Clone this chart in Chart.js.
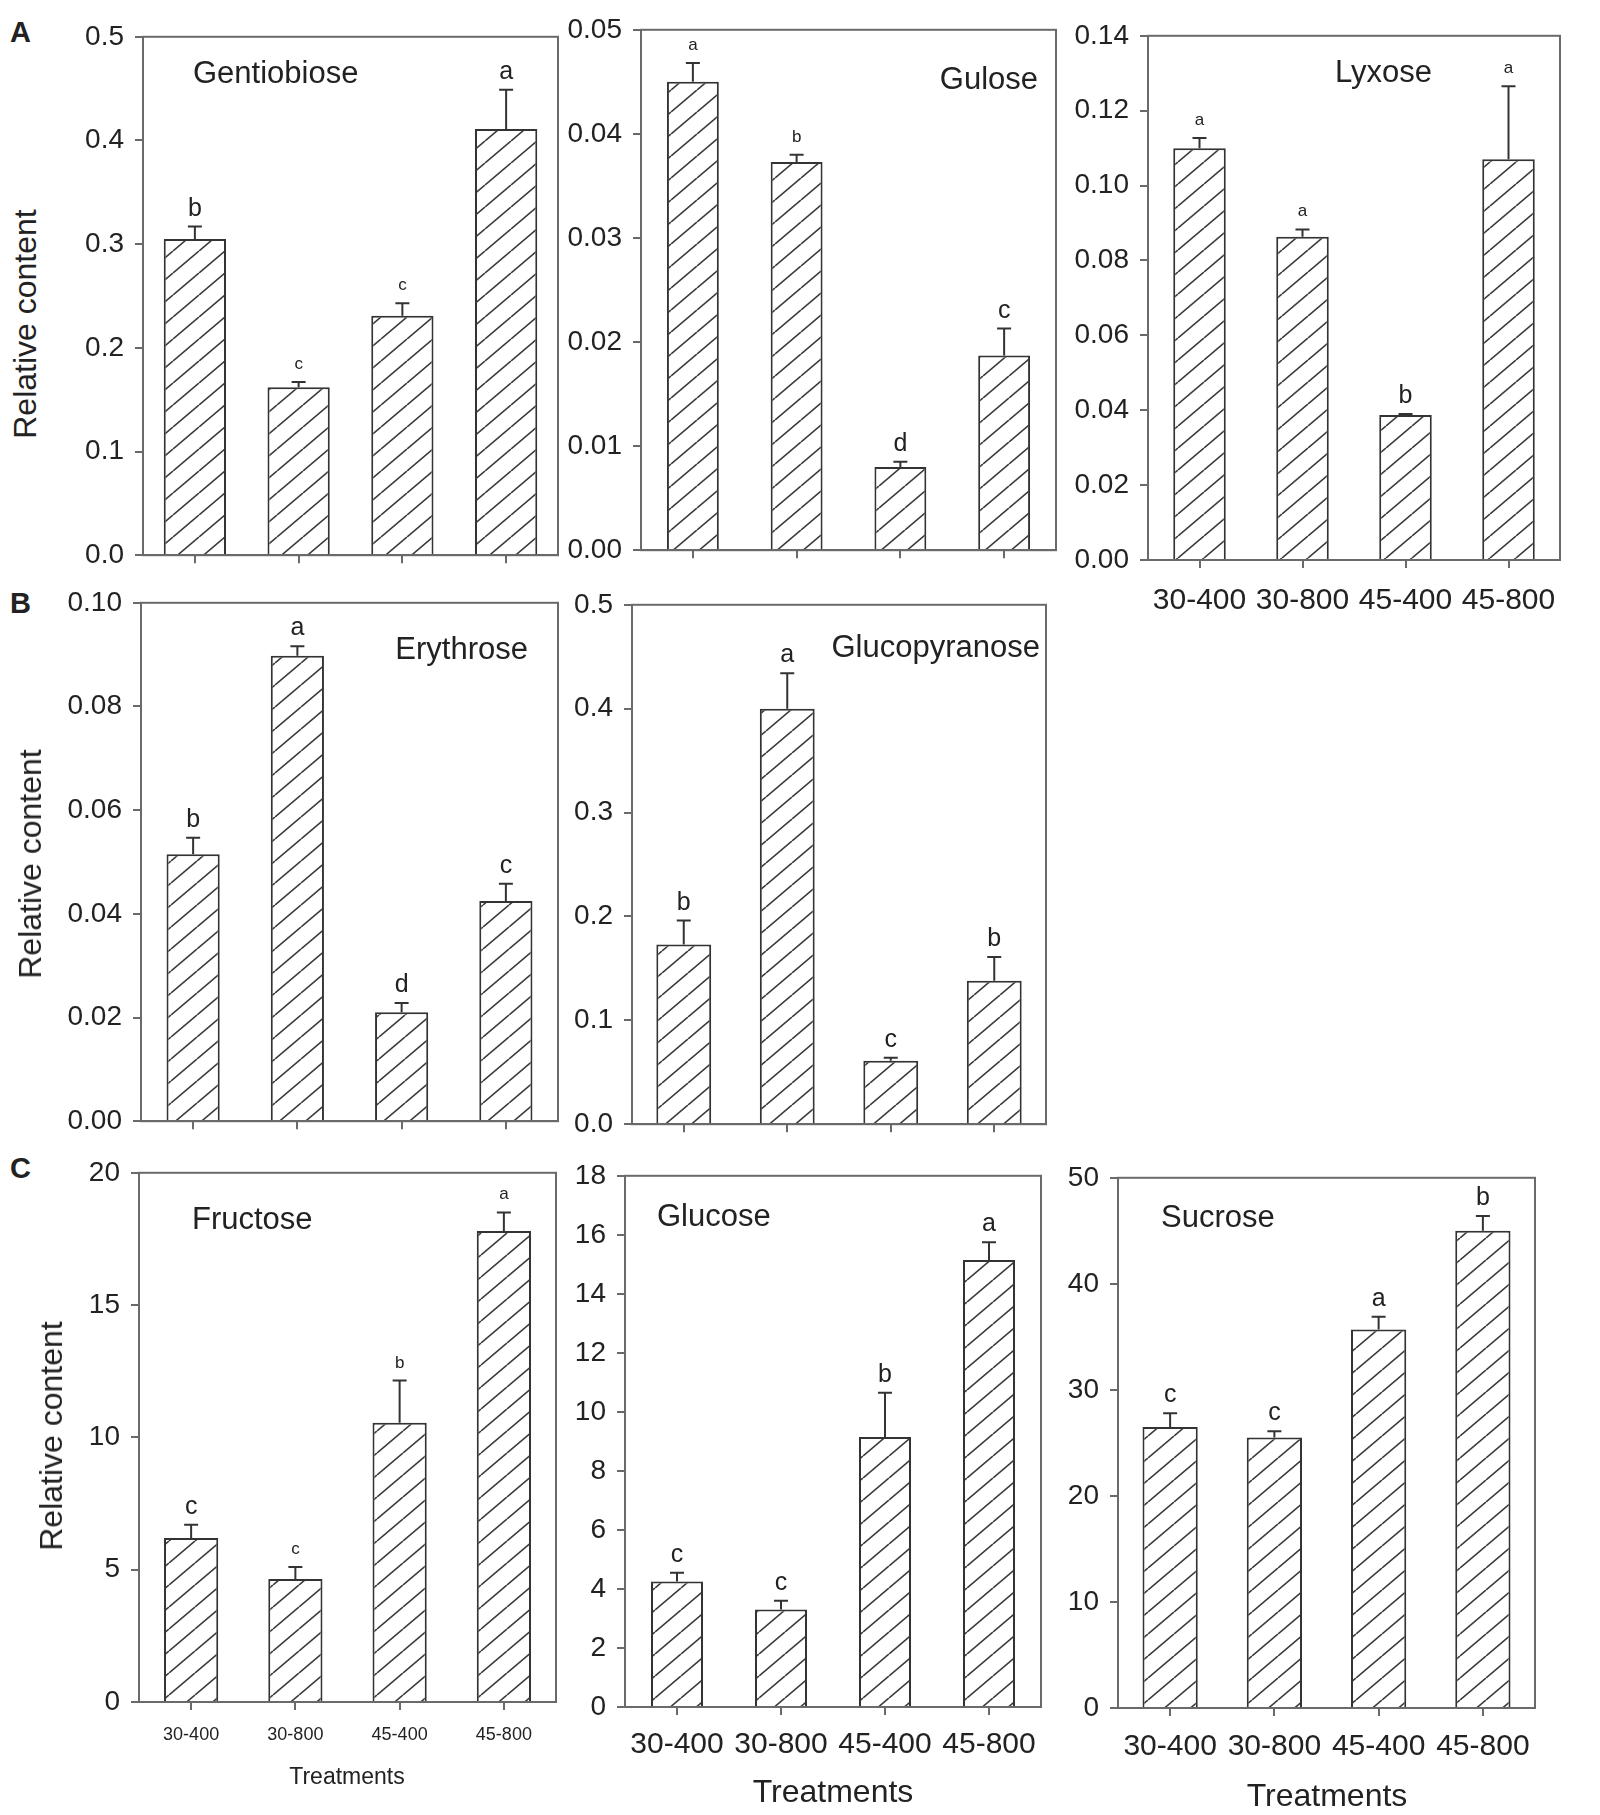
<!DOCTYPE html>
<html>
<head>
<meta charset="utf-8">
<script src="https://cdn.jsdelivr.net/npm/chart.js@4.4.1/dist/chart.umd.min.js"></script>
<style>
  body { margin: 0; background: #fff; }
  #page { position: relative; width: 1600px; height: 1815px; background: #fff;
          font-family: "Liberation Sans", Arial, sans-serif; color: #222; overflow: hidden; }
  #page canvas { position: absolute; }
  .lbl { position: absolute; white-space: nowrap; line-height: 1; }
  .panel { font-weight: bold; font-size: 29px; transform: translate(0, -50%); }
  .ytitle { font-size: 32px; transform: translate(-50%, -50%) rotate(-90deg); }
  .xtitle { transform: translate(-50%, -50%); }
</style>
</head>
<body>
<div id="page"></div>
<script>
const FONT = '"Liberation Sans", Arial, sans-serif';
const treatments = ['30-400', '30-800', '45-400', '45-800'];

// A
const gentiobioseMean = [0.305, 0.162, 0.231, 0.411];
const gentiobioseErr = [0.012, 0.005, 0.012, 0.038];
const gentiobioseLetters = ['b', 'c', 'c', 'a'];
const gentiobioseTicks = ['0.0', '0.1', '0.2', '0.3', '0.4', '0.5'];

const guloseMean = [0.0450, 0.0373, 0.0080, 0.0187];
const guloseErr = [0.0018, 0.0007, 0.0005, 0.0026];
const guloseLetters = ['a', 'b', 'd', 'c'];
const guloseTicks = ['0.00', '0.01', '0.02', '0.03', '0.04', '0.05'];

const lyxoseMean = [0.110, 0.0863, 0.0387, 0.107];
const lyxoseErr = [0.0027, 0.0020, 0.0003, 0.0195];
const lyxoseLetters = ['a', 'a', 'b', 'a'];
const lyxoseTicks = ['0.00', '0.02', '0.04', '0.06', '0.08', '0.10', '0.12', '0.14'];

// B
const erythroseMean = [0.0515, 0.0898, 0.0210, 0.0425];
const erythroseErr = [0.0032, 0.0018, 0.0018, 0.0033];
const erythroseLetters = ['b', 'a', 'd', 'c'];
const erythroseTicks = ['0.00', '0.02', '0.04', '0.06', '0.08', '0.10'];

const glucopyranoseMean = [0.173, 0.400, 0.061, 0.138];
const glucopyranoseErr = [0.023, 0.034, 0.003, 0.023];
const glucopyranoseLetters = ['b', 'a', 'c', 'b'];
const glucopyranoseTicks = ['0.0', '0.1', '0.2', '0.3', '0.4', '0.5'];

// C
const fructoseMean = [6.2, 4.65, 10.55, 17.8];
const fructoseErr = [0.5, 0.45, 1.6, 0.7];
const fructoseLetters = ['c', 'c', 'b', 'a'];
const fructoseTicks = ['0', '5', '10', '15', '20'];

const glucoseMean = [4.25, 3.3, 9.15, 15.15];
const glucoseErr = [0.3, 0.3, 1.5, 0.6];
const glucoseLetters = ['c', 'c', 'b', 'a'];
const glucoseTicks = ['0', '2', '4', '6', '8', '10', '12', '14', '16', '18'];

const sucroseMean = [26.5, 25.5, 35.7, 45.0];
const sucroseErr = [1.3, 0.6, 1.2, 1.4];
const sucroseLetters = ['c', 'c', 'a', 'b'];
const sucroseTicks = ['0', '10', '20', '30', '40', '50'];

// layout of each panel: plot box [left, top, right, bottom] in page pixels
const panels = [
  { title: 'Gentiobiose', mean: gentiobioseMean, err: gentiobioseErr, letters: gentiobioseLetters, ticks: gentiobioseTicks,
    box: [143, 33, 558, 563], barPct: 0.6, small: [0, 1, 1, 0], titleAt: ['left', 50, 38] },
  { title: 'Gulose', mean: guloseMean, err: guloseErr, letters: guloseLetters, ticks: guloseTicks,
    box: [641, 26, 1056, 558], barPct: 0.5, small: [1, 1, 0, 0], titleAt: ['right', 18, 51] },
  { title: 'Lyxose', mean: lyxoseMean, err: lyxoseErr, letters: lyxoseLetters, ticks: lyxoseTicks,
    box: [1148, 32, 1560, 560], barPct: 0.51, small: [1, 1, 0, 1], titleAt: ['left', 187, 38],
    xlab: { size: 30, pad: 15 } },
  { title: 'Erythrose', mean: erythroseMean, err: erythroseErr, letters: erythroseLetters, ticks: erythroseTicks,
    box: [141, 599, 558, 1129], barPct: 0.51, small: [0, 0, 0, 0], titleAt: ['right', 30, 48] },
  { title: 'Glucopyranose', mean: glucopyranoseMean, err: glucopyranoseErr, letters: glucopyranoseLetters, ticks: glucopyranoseTicks,
    box: [632, 601, 1046, 1132], barPct: 0.53, small: [0, 0, 0, 0], titleAt: ['right', 6, 44] },
  { title: 'Fructose', mean: fructoseMean, err: fructoseErr, letters: fructoseLetters, ticks: fructoseTicks,
    box: [139, 1169, 556, 1702], barPct: 0.52, small: [0, 1, 1, 1], titleAt: ['left', 53, 48],
    xlab: { size: 18, pad: 14 } },
  { title: 'Glucose', mean: glucoseMean, err: glucoseErr, letters: glucoseLetters, ticks: glucoseTicks,
    box: [625, 1172, 1041, 1707], barPct: 0.5, small: [0, 0, 0, 0], titleAt: ['left', 32, 42],
    xlab: { size: 30, pad: 12 } },
  { title: 'Sucrose', mean: sucroseMean, err: sucroseErr, letters: sucroseLetters, ticks: sucroseTicks,
    box: [1118, 1174, 1535, 1708], barPct: 0.53, small: [0, 0, 0, 0], titleAt: ['left', 43, 41],
    xlab: { size: 30, pad: 13 } }
];

const page = document.getElementById('page');
const PAD_L = 100, PAD_T = 24, PAD_R = 14;

function hatchPattern(ctx) {
  const w = 26, h = 22;
  const c = document.createElement('canvas');
  c.width = w; c.height = h;
  const g = c.getContext('2d');
  g.fillStyle = '#fff';
  g.fillRect(0, 0, w, h);
  g.strokeStyle = '#3a3a3a';
  g.lineWidth = 1.6;
  g.beginPath();
  g.moveTo(0, h); g.lineTo(w, 0);
  g.moveTo(-w, h); g.lineTo(0, 0);
  g.moveTo(w, h); g.lineTo(2 * w, 0);
  g.stroke();
  return ctx.createPattern(c, 'repeat');
}

// error bars, significance letters, panel name and frame
function extras(p) {
  return {
    id: 'extras',
    afterDatasetsDraw(chart) {
      const ctx = chart.ctx, a = chart.chartArea, y = chart.scales.y;
      const bars = chart.getDatasetMeta(0).data;
      ctx.save();
      bars.forEach((bar, i) => {
        const yTop = y.getPixelForValue(p.mean[i] + p.err[i]);
        ctx.strokeStyle = '#333';
        ctx.lineWidth = 2;
        ctx.beginPath();
        ctx.moveTo(bar.x, bar.y);
        ctx.lineTo(bar.x, yTop);
        ctx.moveTo(bar.x - 7, yTop);
        ctx.lineTo(bar.x + 7, yTop);
        ctx.stroke();
        ctx.fillStyle = '#222';
        ctx.textAlign = 'center';
        ctx.textBaseline = 'alphabetic';
        ctx.font = (p.small[i] ? '17px ' : '25px ') + FONT;
        ctx.fillText(p.letters[i], bar.x, yTop - (p.small[i] ? 13 : 11));
      });
      const [align, dx, dy] = p.titleAt;
      ctx.font = '31px ' + FONT;
      ctx.fillStyle = '#222';
      ctx.textAlign = align;
      ctx.textBaseline = 'middle';
      ctx.fillText(p.title, align === 'left' ? a.left + dx : a.right - dx, a.top + dy);
      ctx.strokeStyle = '#6a6a6a';
      ctx.lineWidth = 2;
      ctx.strokeRect(a.left, a.top, a.right - a.left, a.bottom - a.top);
      ctx.restore();
    }
  };
}

panels.forEach(p => {
  const [l, t, r, b] = p.box;
  const padB = p.xlab ? 70 : 20;
  const cv = document.createElement('canvas');
  const w = (r - l) + PAD_L + PAD_R, h = (b - t) + PAD_T + padB;
  cv.width = w; cv.height = h;
  cv.style.left = (l - PAD_L) + 'px';
  cv.style.top = (t - PAD_T) + 'px';
  cv.style.width = w + 'px';
  cv.style.height = h + 'px';
  page.appendChild(cv);
  const ctx = cv.getContext('2d');
  const tickVals = p.ticks.map(Number);

  new Chart(ctx, {
    type: 'bar',
    data: {
      labels: treatments,
      datasets: [{
        data: p.mean,
        backgroundColor: hatchPattern(ctx),
        borderColor: '#333',
        borderWidth: 2,
        barPercentage: p.barPct,
        categoryPercentage: 1
      }]
    },
    options: {
      responsive: false,
      animation: false,
      devicePixelRatio: 1,
      layout: { padding: { top: PAD_T, right: PAD_R, left: 0, bottom: 0 } },
      plugins: { legend: { display: false }, tooltip: { enabled: false } },
      scales: {
        x: {
          offset: true,
          grid: { offset: false, drawOnChartArea: false, drawTicks: true, tickLength: 8, color: '#6a6a6a', lineWidth: 2 },
          border: { display: true, color: '#6a6a6a', width: 2 },
          ticks: {
            display: !!p.xlab,
            color: '#222',
            maxRotation: 0,
            autoSkip: false,
            padding: p.xlab ? p.xlab.pad : 0,
            font: { family: FONT, size: p.xlab ? p.xlab.size : 12 }
          },
          afterFit: s => { s.height = padB; }
        },
        y: {
          min: 0,
          max: tickVals[tickVals.length - 1],
          grid: { drawOnChartArea: false, drawTicks: true, tickLength: 8, color: '#6a6a6a', lineWidth: 2 },
          border: { display: true, color: '#6a6a6a', width: 2 },
          ticks: {
            color: '#222',
            padding: 11,
            font: { family: FONT, size: 28 },
            callback: (v, i) => p.ticks[i]
          },
          afterBuildTicks: s => { s.ticks = tickVals.map(v => ({ value: v })); },
          afterFit: s => { s.width = PAD_L; }
        }
      }
    },
    plugins: [extras(p)]
  });
});

// outside text: panel letters, axis titles
const outside = [
  ['A', 'lbl panel', 10, 32],
  ['B', 'lbl panel', 10, 603],
  ['C', 'lbl panel', 10, 1168]
];
outside.forEach(([txt, cls, x, y]) => {
  const d = document.createElement('div');
  d.className = cls; d.textContent = txt;
  d.style.left = x + 'px'; d.style.top = y + 'px';
  page.appendChild(d);
});
[[25, 324], [30, 864], [51, 1436]].forEach(([x, y]) => {
  const d = document.createElement('div');
  d.className = 'lbl ytitle'; d.textContent = 'Relative content';
  d.style.left = x + 'px'; d.style.top = y + 'px';
  page.appendChild(d);
});
[[347, 1776, 23], [833, 1791, 32], [1327, 1795, 32]].forEach(([x, y, fs]) => {
  const d = document.createElement('div');
  d.className = 'lbl xtitle'; d.textContent = 'Treatments';
  d.style.left = x + 'px'; d.style.top = y + 'px'; d.style.fontSize = fs + 'px';
  page.appendChild(d);
});
</script>
</body>
</html>
